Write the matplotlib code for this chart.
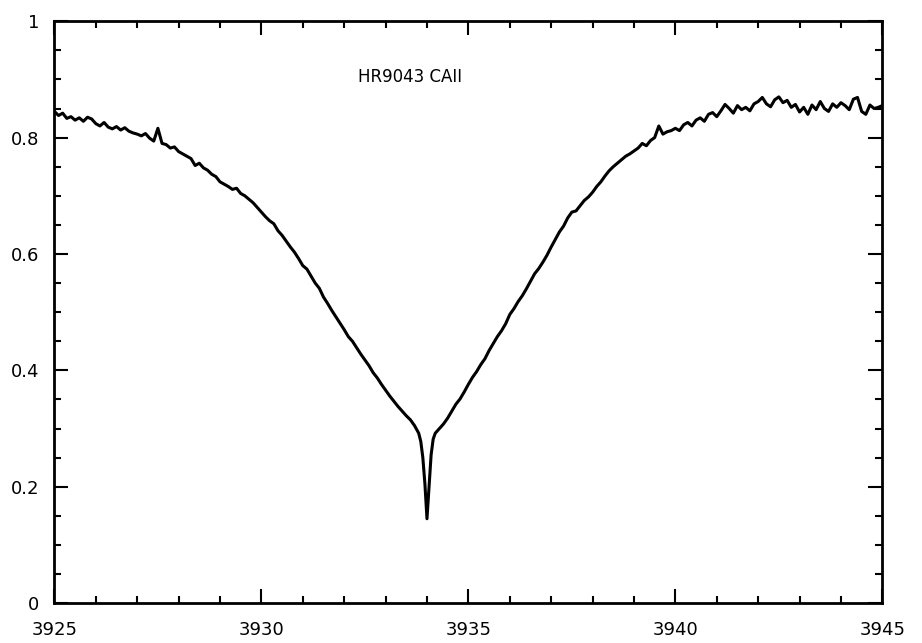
import numpy as np
import matplotlib.pyplot as plt
from matplotlib.ticker import MultipleLocator, FormatStrFormatter

# HR9043, Ca II K line profile
wave_blue = np.round(np.arange(3925.0, 3933.85, 0.1), 2)
flux_blue = [
    0.845, 0.838, 0.842, 0.833, 0.836, 0.830, 0.834, 0.828, 0.835, 0.832,
    0.824, 0.820, 0.826, 0.818, 0.815, 0.819, 0.813, 0.817, 0.811, 0.808,
    0.806, 0.803, 0.807, 0.799, 0.794, 0.816, 0.790, 0.788, 0.782, 0.784,
    0.776, 0.772, 0.768, 0.764, 0.752, 0.756, 0.748, 0.744, 0.737, 0.733,
    0.724, 0.720, 0.716, 0.711, 0.713, 0.704, 0.700, 0.694, 0.688, 0.680,
    0.672, 0.664, 0.657, 0.652, 0.640, 0.632, 0.622, 0.612, 0.603, 0.592,
    0.580, 0.574, 0.562, 0.550, 0.541, 0.526, 0.515, 0.503, 0.492, 0.481,
    0.470, 0.458, 0.450, 0.439, 0.428, 0.418, 0.408, 0.396, 0.387, 0.376,
    0.366, 0.356, 0.347, 0.338, 0.330, 0.322, 0.315, 0.305, 0.292,
]

wave_core = [3933.85, 3933.90, 3933.95, 3934.00, 3934.05, 3934.10, 3934.15]
flux_core = [0.278, 0.250, 0.205, 0.145, 0.200, 0.255, 0.282]

wave_red = np.round(np.arange(3934.2, 3945.05, 0.1), 2)
flux_red = [
    0.292, 0.300, 0.308, 0.318, 0.330, 0.342, 0.351, 0.363,
    0.376, 0.388, 0.398, 0.410, 0.420, 0.434, 0.446, 0.458, 0.468, 0.480,
    0.496, 0.506, 0.518, 0.528, 0.540, 0.553, 0.566, 0.575, 0.586, 0.598,
    0.612, 0.625, 0.638, 0.648, 0.662, 0.672, 0.674, 0.683, 0.692, 0.698,
    0.706, 0.716, 0.724, 0.734, 0.743, 0.750, 0.756, 0.762, 0.768, 0.772,
    0.777, 0.782, 0.790, 0.786, 0.795, 0.800, 0.820, 0.806, 0.810, 0.812,
    0.816, 0.812, 0.822, 0.826, 0.820, 0.830, 0.834, 0.828, 0.840, 0.843,
    0.836, 0.846, 0.857, 0.850, 0.842, 0.855, 0.848, 0.852, 0.846, 0.858,
    0.862, 0.869, 0.858, 0.853, 0.865, 0.870, 0.860, 0.864, 0.852, 0.857,
    0.844, 0.852, 0.840, 0.856, 0.848, 0.862, 0.850, 0.845, 0.858, 0.852,
    0.860, 0.855, 0.848, 0.866, 0.869, 0.845, 0.840, 0.856, 0.850, 0.852,
    0.855,
]

wave = np.concatenate([wave_blue, wave_core, wave_red])
flux = np.concatenate([flux_blue, flux_core, flux_red])

fig = plt.figure(figsize=(9.22, 6.43), dpi=100)
ax = fig.add_axes([0.059, 0.062, 0.898, 0.905])

ax.plot(wave, flux, color='black', lw=2.2)
ax.text(3933.6, 0.905, 'HR9043 CAII', fontsize=12, ha='center', va='center')

ax.set_xlim(3925, 3945)
ax.set_ylim(0, 1)
ax.xaxis.set_major_locator(MultipleLocator(5))
ax.xaxis.set_minor_locator(MultipleLocator(1))
ax.yaxis.set_major_locator(MultipleLocator(0.2))
ax.yaxis.set_minor_locator(MultipleLocator(0.05))
ax.yaxis.set_major_formatter(FormatStrFormatter('%g'))

ax.tick_params(which='both', direction='in', top=True, right=True,
               width=1.5, labelsize=13)
ax.tick_params(which='major', length=10)
ax.tick_params(axis='x', which='major', pad=13)
ax.tick_params(axis='y', which='major', pad=11)
ax.tick_params(which='minor', length=5)
for s in ax.spines.values():
    s.set_linewidth(2)

fig.savefig('out.png', dpi=100)
